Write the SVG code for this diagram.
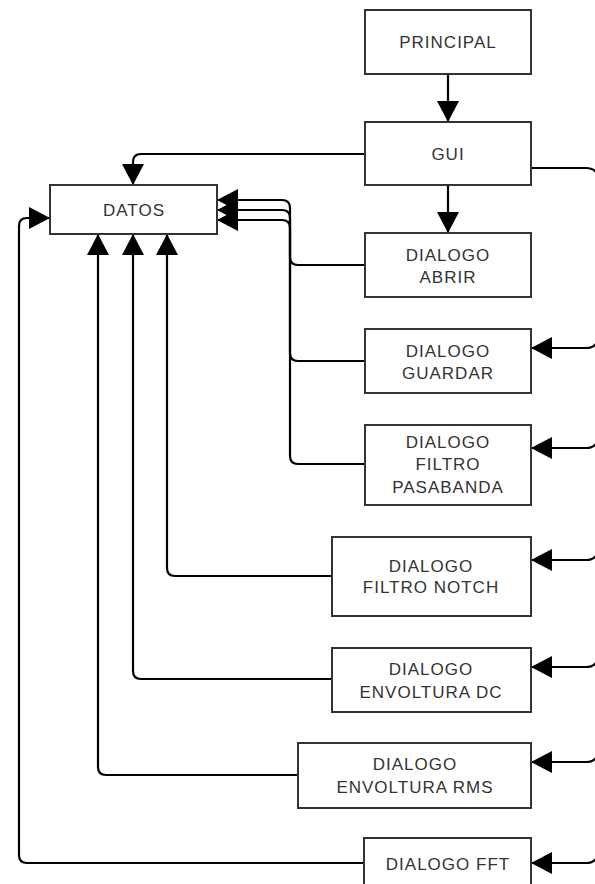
<svg xmlns="http://www.w3.org/2000/svg" width="595" height="884" viewBox="0 0 595 884">
<style>
.box{fill:#fff;stroke:#333;stroke-width:2}
.t{font-family:"Liberation Sans",Arial,sans-serif;font-size:17px;fill:#333;text-anchor:middle;letter-spacing:1px}
.c{fill:none;stroke:#000;stroke-width:2.2}
</style>
<defs>
<marker id="ah" markerUnits="userSpaceOnUse" markerWidth="21" markerHeight="22" refX="20" refY="11" orient="auto" viewBox="0 0 21 22">
<path d="M0,0 L21,11 L0,22 z" fill="#000"/>
</marker>
</defs>
<rect width="595" height="884" fill="#fff"/>
<g id="connectors">
<path class="c" d="M448 74 V121" marker-end="url(#ah)"/>
<path class="c" d="M448 185 V232" marker-end="url(#ah)"/>
<path class="c" d="M365 154 H141 Q133 154 133 162 V184" marker-end="url(#ah)"/>
<path class="c" d="M531 168 H586 Q598 168 598 180 V336 Q598 348 586 348 H532" marker-end="url(#ah)"/>
<path class="c" d="M598 180 V436 Q598 448 586 448 H532" marker-end="url(#ah)"/>
<path class="c" d="M598 180 V548 Q598 560 586 560 H532" marker-end="url(#ah)"/>
<path class="c" d="M598 180 V655 Q598 667 586 667 H532" marker-end="url(#ah)"/>
<path class="c" d="M598 180 V750 Q598 762 586 762 H532" marker-end="url(#ah)"/>
<path class="c" d="M598 180 V851 Q598 863 586 863 H532" marker-end="url(#ah)"/>
<path class="c" d="M365 265 H298 Q290 265 290 257 V228 Q290 220 282 220 H218" marker-end="url(#ah)"/>
<path class="c" d="M365 361 H298 Q290 361 290 353 V218 Q290 210 282 210 H218" marker-end="url(#ah)"/>
<path class="c" d="M365 464 H298 Q290 464 290 456 V208 Q290 200 282 200 H218" marker-end="url(#ah)"/>
<path class="c" d="M332 576 H175 Q167 576 167 568 V235" marker-end="url(#ah)"/>
<path class="c" d="M332 679 H141 Q133 679 133 671 V235" marker-end="url(#ah)"/>
<path class="c" d="M298 775 H106 Q98 775 98 767 V235" marker-end="url(#ah)"/>
<path class="c" d="M364 863 H27 Q19 863 19 855 V226 Q19 218 27 218 H49" marker-end="url(#ah)"/>
</g>
<g id="principal"><rect class="box" x="365" y="10" width="166" height="64"/><text class="t" x="448" y="48">PRINCIPAL</text></g>
<g id="gui"><rect class="box" x="365" y="122" width="166" height="63"/><text class="t" x="448" y="160">GUI</text></g>
<g id="datos"><rect class="box" x="50" y="185" width="167" height="49"/><text class="t" x="134" y="216">DATOS</text></g>
<g id="abrir"><rect class="box" x="365" y="233" width="166" height="64"/><text class="t" x="448" y="261">DIALOGO</text><text class="t" x="448" y="283">ABRIR</text></g>
<g id="guardar"><rect class="box" x="365" y="329" width="166" height="64"/><text class="t" x="448" y="357">DIALOGO</text><text class="t" x="448" y="379">GUARDAR</text></g>
<g id="pasabanda"><rect class="box" x="365" y="425" width="166" height="80"/><text class="t" x="448" y="448">DIALOGO</text><text class="t" x="448" y="470">FILTRO</text><text class="t" x="448" y="493">PASABANDA</text></g>
<g id="notch"><rect class="box" x="332" y="537" width="199" height="79"/><text class="t" x="431" y="572">DIALOGO</text><text class="t" x="431" y="593">FILTRO NOTCH</text></g>
<g id="dc"><rect class="box" x="332" y="648" width="199" height="64"/><text class="t" x="431" y="675">DIALOGO</text><text class="t" x="431" y="698">ENVOLTURA DC</text></g>
<g id="rms"><rect class="box" x="298" y="743" width="233" height="65"/><text class="t" x="415" y="770">DIALOGO</text><text class="t" x="415" y="793">ENVOLTURA RMS</text></g>
<g id="fft"><rect class="box" x="364" y="838" width="167" height="52"/><text class="t" x="448" y="870">DIALOGO FFT</text></g>
</svg>
